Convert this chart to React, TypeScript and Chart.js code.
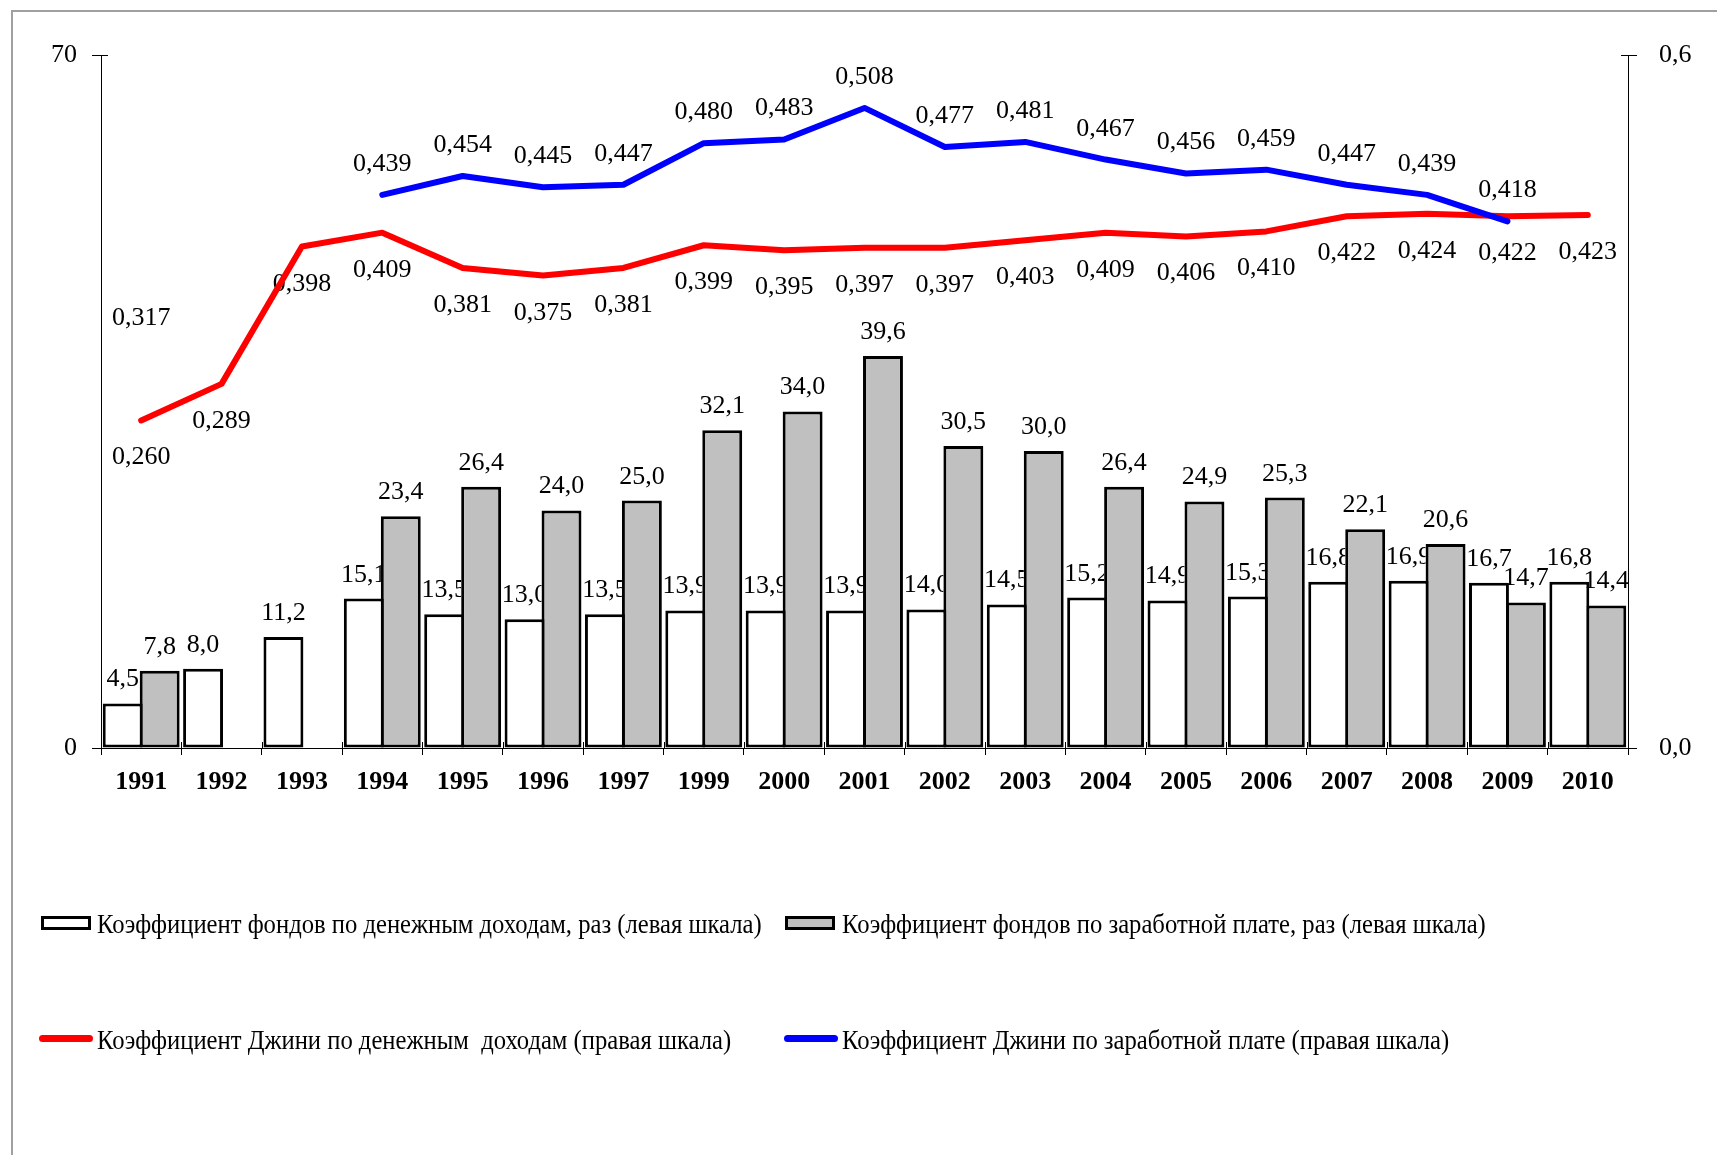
import React, { useEffect, useRef } from "react";
import { Chart, registerables } from "chart.js";

Chart.register(...registerables);

const years = ["1991", "1992", "1993", "1994", "1995", "1996", "1997", "1999", "2000", "2001", "2002", "2003", "2004", "2005", "2006", "2007", "2008", "2009", "2010"];
const fundIncome = [4.5, 8.0, 11.2, 15.1, 13.5, 13.0, 13.5, 13.9, 13.9, 13.9, 14.0, 14.5, 15.2, 14.9, 15.3, 16.8, 16.9, 16.7, 16.8];
const fundWage = [7.8, null, null, 23.4, 26.4, 24.0, 25.0, 32.1, 34.0, 39.6, 30.5, 30.0, 26.4, 24.9, 25.3, 22.1, 20.6, 14.7, 14.4];
const giniIncome = [0.26, 0.289, 0.398, 0.409, 0.381, 0.375, 0.381, 0.399, 0.395, 0.397, 0.397, 0.403, 0.409, 0.406, 0.41, 0.422, 0.424, 0.422, 0.423];
const giniWage = [0.317, null, null, 0.439, 0.454, 0.445, 0.447, 0.48, 0.483, 0.508, 0.477, 0.481, 0.467, 0.456, 0.459, 0.447, 0.439, 0.418, null];

const leftTicks = [0, 70];
const leftTickLabels = ["0", "70"];
const rightTicks = [0, 0.55];
const rightTickLabels = ["0,0", "0,6"];

const legendIncomeFund = "Коэффициент фондов по денежным доходам, раз (левая шкала)";
const legendWageFund = "Коэффициент фондов по заработной плате, раз (левая шкала)";
const legendIncomeGini = "Коэффициент Джини по денежным  доходам (правая шкала)";
const legendWageGini = "Коэффициент Джини по заработной плате (правая шкала)";

const W = 1717;
const H = 1155;
const SERIF = '"Liberation Serif", "Times New Roman", serif';

const fmt = (v: number, d: number) => v.toFixed(d).replace(".", ",");

// an isolated point (no neighbour on either side) is labelled but not drawn as a line
const lineData = (arr: (number | null)[]) =>
  arr.map((v, j) => {
    if (v == null) return null;
    const prev = j > 0 ? arr[j - 1] : null;
    const next = j < arr.length - 1 ? arr[j + 1] : null;
    return prev == null && next == null ? null : v;
  });

const labelPlugin = {
  id: "valueLabels",
  beforeDatasetsDraw(chart: any) {
    const ctx = chart.ctx;
    const xs = chart.scales.x;
    const y1 = chart.scales.y1;
    ctx.save();
    ctx.font = `26px ${SERIF}`;
    ctx.fillStyle = "#000";
    ctx.textAlign = "center";
    ctx.textBaseline = "alphabetic";

    // grey-bar labels
    const greyMeta = chart.getDatasetMeta(1);
    greyMeta.data.forEach((el: any, j: number) => {
      const v = fundWage[j];
      if (v == null) return;
      ctx.fillText(fmt(v, 1), el.x, el.y - 17);
    });

    // white-bar labels, hidden behind the grey bars
    ctx.save();
    ctx.beginPath();
    ctx.rect(0, 0, W, H);
    greyMeta.data.forEach((el: any, j: number) => {
      if (fundWage[j] == null) return;
      const p = el.getProps(["x", "y", "base", "width"], true);
      ctx.rect(p.x - p.width / 2, p.y, p.width, p.base - p.y);
    });
    ctx.clip("evenodd");
    const whiteMeta = chart.getDatasetMeta(0);
    whiteMeta.data.forEach((el: any, j: number) => {
      const v = fundIncome[j];
      if (v == null) return;
      ctx.fillText(fmt(v, 1), el.x, el.y - 17);
    });
    ctx.restore();

    // Gini labels
    giniIncome.forEach((v, j) => {
      if (v == null) return;
      ctx.fillText(fmt(v, 3), xs.getPixelForValue(j), y1.getPixelForValue(v) + 44);
    });
    giniWage.forEach((v, j) => {
      if (v == null) return;
      ctx.fillText(fmt(v, 3), xs.getPixelForValue(j), y1.getPixelForValue(v) - 24);
    });
    ctx.restore();
  },
  afterDraw(chart: any) {
    const ctx = chart.ctx;
    const a = chart.chartArea;
    ctx.save();
    ctx.strokeStyle = "#000";
    ctx.lineWidth = 1;
    ctx.beginPath();
    const yL = chart.scales.y;
    leftTicks.forEach((v) => {
      const py = Math.round(yL.getPixelForValue(v)) + 0.5;
      ctx.moveTo(a.left, py);
      ctx.lineTo(a.left + 7, py);
    });
    const yR = chart.scales.y1;
    rightTicks.forEach((v) => {
      const py = Math.round(yR.getPixelForValue(v)) + 0.5;
      ctx.moveTo(a.right - 7, py);
      ctx.lineTo(a.right, py);
    });
    const step = (a.right - a.left) / years.length;
    for (let k = 0; k <= years.length; k++) {
      const px = Math.round(a.left + k * step) + 0.5;
      ctx.moveTo(px, a.bottom);
      ctx.lineTo(px, a.bottom - 6);
    }
    ctx.stroke();
    ctx.restore();
  },
};

function App() {
  const ref = useRef<HTMLCanvasElement | null>(null);

  useEffect(() => {
    document.body.style.margin = "0";
    const canvas = ref.current;
    if (!canvas) return;
    const tickFont = { family: SERIF, size: 26 };
    const chart = new Chart(canvas, {
      type: "bar",
      data: {
        labels: years,
        datasets: [
          {
            type: "bar",
            label: legendIncomeFund,
            data: fundIncome,
            backgroundColor: "#FFFFFF",
            borderColor: "#000000",
            borderWidth: 3,
            borderSkipped: false,
            yAxisID: "y",
            order: 3,
            categoryPercentage: 0.92,
            barPercentage: 1.08,
          },
          {
            type: "bar",
            label: legendWageFund,
            data: fundWage,
            backgroundColor: "#C0C0C0",
            borderColor: "#000000",
            borderWidth: 3,
            borderSkipped: false,
            yAxisID: "y",
            order: 3,
            categoryPercentage: 0.92,
            barPercentage: 1.08,
          },
          {
            type: "line",
            label: legendIncomeGini,
            data: lineData(giniIncome),
            borderColor: "#FF0000",
            backgroundColor: "#FF0000",
            borderWidth: 6,
            pointRadius: 0,
            pointHoverRadius: 0,
            tension: 0,
            spanGaps: false,
            borderCapStyle: "round",
            borderJoinStyle: "round",
            yAxisID: "y1",
            order: 2,
          } as any,
          {
            type: "line",
            label: legendWageGini,
            data: lineData(giniWage),
            borderColor: "#0000FF",
            backgroundColor: "#0000FF",
            borderWidth: 6,
            pointRadius: 0,
            pointHoverRadius: 0,
            tension: 0,
            spanGaps: false,
            borderCapStyle: "round",
            borderJoinStyle: "round",
            yAxisID: "y1",
            order: 1,
          } as any,
        ],
      },
      options: {
        responsive: false,
        animation: false,
        devicePixelRatio: 1,
        layout: { padding: { top: 55, left: 0, right: 0, bottom: 0 } },
        plugins: {
          legend: { display: false },
          tooltip: { enabled: false },
          title: { display: false },
        },
        scales: {
          x: {
            type: "category",
            offset: true,
            grid: {
              display: true,
              drawOnChartArea: false,
              drawTicks: true,
              tickLength: 7,
              offset: true,
              color: "#000",
              lineWidth: 1,
            },
            border: { display: true, color: "#000", width: 1 },
            ticks: {
              font: { family: SERIF, size: 26, weight: "bold" },
              color: "#000",
              padding: 12,
              maxRotation: 0,
              autoSkip: false,
            },
            afterFit: (s: any) => {
              s.height = H - 748;
            },
          },
          y: {
            type: "linear",
            position: "left",
            min: 0,
            max: 70,
            afterBuildTicks: (s: any) => {
              s.ticks = leftTicks.map((v) => ({ value: v }));
            },
            grid: { drawOnChartArea: false, drawTicks: true, tickLength: 9, color: "#000" },
            border: { display: true, color: "#000", width: 1 },
            ticks: {
              font: tickFont,
              color: "#000",
              padding: 15,
              callback: (_v: any, i: number) => leftTickLabels[i],
            },
            afterFit: (s: any) => {
              s.width = 101;
            },
          },
          y1: {
            type: "linear",
            position: "right",
            min: 0,
            max: 0.55,
            afterBuildTicks: (s: any) => {
              s.ticks = rightTicks.map((v) => ({ value: v }));
            },
            grid: { drawOnChartArea: false, drawTicks: true, tickLength: 9, color: "#000" },
            border: { display: true, color: "#000", width: 1 },
            ticks: {
              font: tickFont,
              color: "#000",
              padding: 22,
              callback: (_v: any, i: number) => rightTickLabels[i],
            },
            afterFit: (s: any) => {
              s.width = W - 1628;
            },
          },
        },
      } as any,
      plugins: [labelPlugin],
    });
    return () => chart.destroy();
  }, []);

  const textStyle: React.CSSProperties = {
    position: "absolute",
    fontFamily: SERIF,
    fontSize: 28,
    lineHeight: "28px",
    whiteSpace: "pre",
    color: "#000",
    transform: "scaleX(0.88)",
    transformOrigin: "left center",
  };

  return (
    <div style={{ position: "relative", width: W, height: H, overflow: "hidden", background: "#fff" }}>
      <canvas ref={ref} width={W} height={H} style={{ position: "absolute", left: 0, top: 0, width: W, height: H }} />
      <div
        style={{
          position: "absolute",
          left: 11,
          top: 10,
          width: 2000,
          height: 2000,
          borderLeft: "2px solid #a0a0a0",
          borderTop: "2px solid #a0a0a0",
          pointerEvents: "none",
        }}
      />
      {/* legend row 1 */}
      <div style={{ position: "absolute", left: 41, top: 916, width: 44, height: 8, border: "3px solid #000", background: "#fff" }} />
      <div style={{ ...textStyle, left: 97, top: 910 }}>{legendIncomeFund}</div>
      <div style={{ position: "absolute", left: 785, top: 916, width: 44, height: 8, border: "3px solid #000", background: "#C0C0C0" }} />
      <div style={{ ...textStyle, left: 842, top: 910 }}>{legendWageFund}</div>
      {/* legend row 2 */}
      <div style={{ position: "absolute", left: 39, top: 1035, width: 54, height: 7, borderRadius: 4, background: "#FF0000" }} />
      <div style={{ ...textStyle, left: 97, top: 1026 }}>{legendIncomeGini}</div>
      <div style={{ position: "absolute", left: 784, top: 1035, width: 54, height: 7, borderRadius: 4, background: "#0000FF" }} />
      <div style={{ ...textStyle, left: 842, top: 1026 }}>{legendWageGini}</div>
    </div>
  );
}

export default App;
